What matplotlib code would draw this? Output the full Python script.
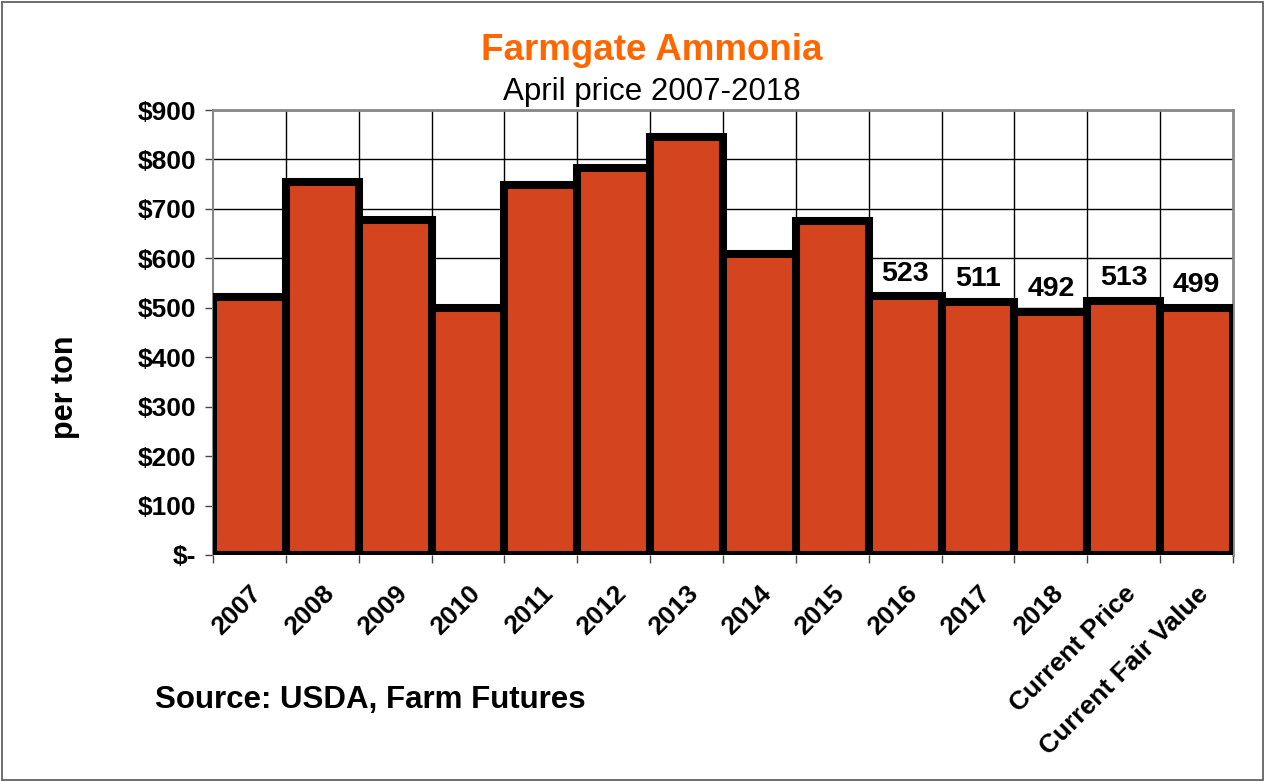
import matplotlib
matplotlib.use("Agg")
import matplotlib.pyplot as plt
from matplotlib.patches import Rectangle

categories = ["2007", "2008", "2009", "2010", "2011", "2012", "2013", "2014",
              "2015", "2016", "2017", "2018", "Current Price", "Current Fair Value"]
prices = [522, 754, 677, 500, 749, 783, 845, 608, 675, 523, 511, 492, 513, 499]
labeled = [False] * 9 + [True] * 5
yticks = [0, 100, 200, 300, 400, 500, 600, 700, 800, 900]
ytick_labels = ["$-", "$100", "$200", "$300", "$400", "$500", "$600", "$700", "$800", "$900"]

plt.rcParams['font.family'] = ['Liberation Sans', 'DejaVu Sans']

W, H = 1265, 782
fig = plt.figure(figsize=(W / 100, H / 100), dpi=100)
ax = fig.add_axes([213 / W, 1 - 555 / H, (1233 - 213) / W, (555 - 110) / H])

n = len(categories)
x = list(range(n))
ax.bar(x, prices, width=1.0, color="#D4451F", edgecolor="black", linewidth=5.8,
       zorder=3)
ax.set_xlim(-0.5, n - 0.5)
ax.set_ylim(0, 900)

# gridlines
for v in yticks[1:]:
    ax.axhline(v, color="black", lw=1.0, zorder=1)
for b in range(1, n):
    ax.axvline(b - 0.5, color="black", lw=1.0, zorder=1)

ax.set_yticks(yticks)
ax.set_yticklabels(ytick_labels, fontsize=19, fontweight="bold")
ax.set_xticks(x)
ax.set_xticklabels(categories, rotation=45, ha="right", va="top",
                   rotation_mode="anchor", fontsize=19, fontweight="bold")
ax.tick_params(axis="x", length=0, pad=19)
ax.set_xticks([b - 0.5 for b in range(n + 1)], minor=True)
ax.tick_params(axis="x", which="minor", length=6, width=1, color="#444444")
ax.tick_params(axis="y", length=6, width=1, color="#444444", pad=6)

for s in ["top", "right"]:
    ax.spines[s].set_color("#888888")
    ax.spines[s].set_linewidth(2)
ax.spines["left"].set_color("#888888")
ax.spines["left"].set_linewidth(1.5)
ax.spines["bottom"].set_visible(False)

for xi, v, lab in zip(x, prices, labeled):
    if lab:
        ax.text(xi, v + 20, f"{v}", ha="center", va="bottom", fontsize=20.5,
                fontweight="bold", zorder=4)

fig.text(65 / W, 1 - 387 / H, "per ton", ha="center", va="center", rotation=90,
         fontsize=22, fontweight="bold")

fig.text(652 / W, 1 - 50 / H, "Farmgate Ammonia", ha="center", va="center",
         fontsize=26.5, fontweight="bold", color="#FF6600")
fig.text(652 / W, 1 - 92 / H, "April price 2007-2018", ha="center", va="center",
         fontsize=22.5, color="black")
fig.text(155 / W, 1 - 700 / H, "Source: USDA, Farm Futures", ha="left", va="center",
         fontsize=22.5, fontweight="bold")

fig.patches.append(Rectangle((2 / W, 2 / H), 1 - 4 / W, 1 - 4 / H, transform=fig.transFigure,
                             fill=False, edgecolor="#555555", lw=1.2))

fig.savefig("out.png", dpi=100)
